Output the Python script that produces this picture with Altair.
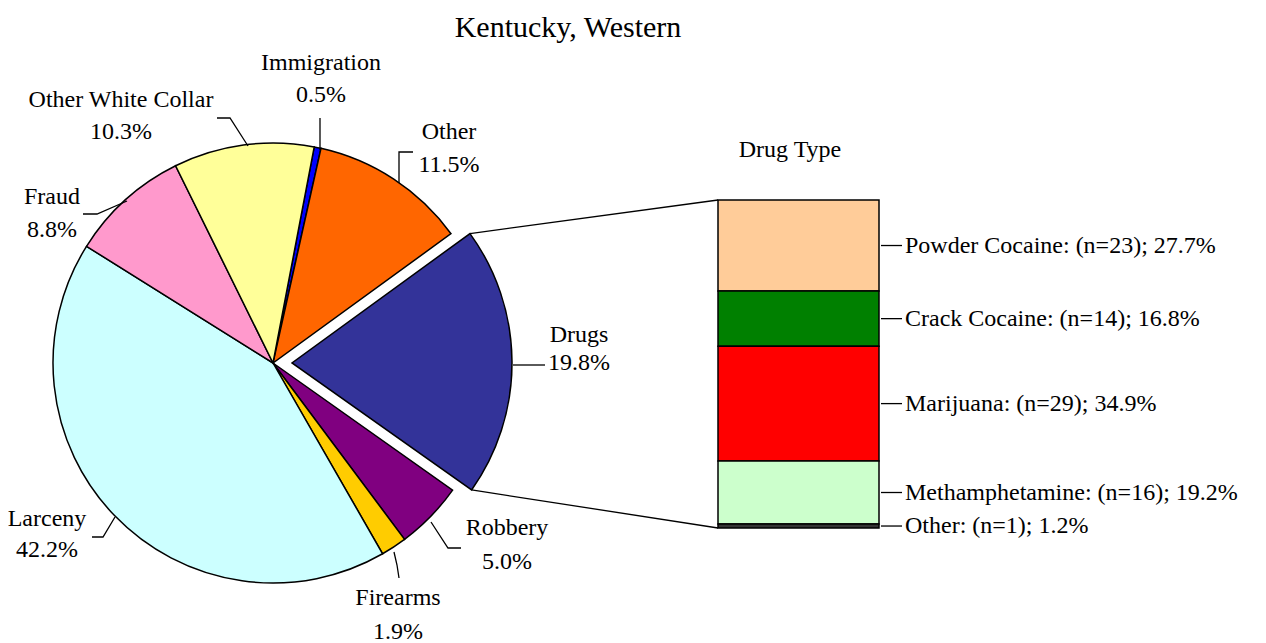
import math
import altair as alt
import pandas as pd

# ---------------- data ----------------
pie_categories = ["Immigration", "Other", "Drugs", "Robbery", "Firearms",
                  "Larceny", "Fraud", "Other White Collar"]
pie_percent = [0.5, 11.5, 19.8, 5.0, 1.9, 42.2, 8.8, 10.3]

drug_types = ["Powder Cocaine", "Crack Cocaine", "Marijuana", "Methamphetamine", "Other"]
drug_counts = [23, 14, 29, 16, 1]
drug_percent = [27.7, 16.8, 34.9, 19.2, 1.2]

chart_title = "Kentucky, Western"
bar_title = "Drug Type"
exploded = "Drugs"

# ---------------- styles / layout ----------------
pie_colors = {
    "Immigration": "#0000FF", "Other": "#FF6600", "Drugs": "#333399",
    "Robbery": "#800080", "Firearms": "#FFCC00", "Larceny": "#CCFFFF",
    "Fraud": "#FF99CC", "Other White Collar": "#FFFF99",
}
drug_colors = {
    "Powder Cocaine": "#FFCC99", "Crack Cocaine": "#008000", "Marijuana": "#FF0000",
    "Methamphetamine": "#CCFFCC", "Other": "#333333",
}
FONT = "Liberation Serif"
FS = 24
W, H = 1250, 635
CX, CY, R = 265, 355, 220
START_DEG = 10.8
EXPLODE = 19
BAR_X0, BAR_X1, BAR_TOP, BAR_BOTTOM = 710, 871, 192, 520

# label placement (text line centres, view pixels) and leader polylines
label_pos = {
    "Immigration": (313, 55, 87),
    "Other": (441, 124, 157),
    "Drugs": (571, 327, 355),
    "Robbery": (499, 520, 554),
    "Firearms": (390, 590, 624),
    "Larceny": (39, 511, 542),
    "Fraud": (44, 189, 222),
    "Other White Collar": (113, 92, 124),
}
leaders = {
    "Immigration": [(312, 110), (312, 142)],
    "Other": [(405, 144), (391, 144), (391, 175)],
    "Drugs": [(505, 357), (537, 357)],
    "Robbery": [(423, 514), (440, 540), (453, 540)],
    "Firearms": [(386, 544), (389, 557), (391, 570)],
    "Larceny": [(107, 509), (95, 529), (84, 529)],
    "Fraud": [(119, 193), (89, 206), (75, 206)],
    "Other White Collar": [(240, 138), (222, 110), (209, 110)],
}

# ---------------- tables ----------------
total_pie = sum(pie_percent)
a0 = math.radians(START_DEG)
pie_df = pd.DataFrame({
    "cat": pie_categories,
    "pct": pie_percent,
    "idx": list(range(len(pie_categories))),
    "color": [pie_colors[c] for c in pie_categories],
})

# exploded slice geometry (from data)
k = pie_categories.index(exploded)
s_frac = sum(pie_percent[:k]) / total_pie
e_frac = sum(pie_percent[:k + 1]) / total_pie
ts = a0 + 2 * math.pi * s_frac
te = a0 + 2 * math.pi * e_frac
tm = (ts + te) / 2
dx, dy = EXPLODE * math.sin(tm), -EXPLODE * math.cos(tm)
ecx, ecy = CX + dx, CY + dy
corner_top = (ecx + R * math.sin(ts), ecy - R * math.cos(ts))
corner_bot = (ecx + R * math.sin(te), ecy - R * math.cos(te))

# text labels
lab_rows = []
for c, p in zip(pie_categories, pie_percent):
    x, y1, y2 = label_pos[c]
    lab_rows.append({"text": c, "x": x, "y": y1})
    lab_rows.append({"text": f"{p:.1f}%", "x": x, "y": y2})
lab_df = pd.DataFrame(lab_rows)

lead_rows = []
for c, pts in leaders.items():
    for j, (x, y) in enumerate(pts):
        lead_rows.append({"seg": c, "k": j, "x": x, "y": y})
lead_df = pd.DataFrame(lead_rows)

conn_df = pd.DataFrame({
    "x": [corner_top[0], corner_bot[0]],
    "y": [corner_top[1], corner_bot[1]],
    "x2": [BAR_X0, BAR_X0],
    "y2": [BAR_TOP, BAR_BOTTOM],
})

total_drug = sum(drug_percent)
y0s, y1s = [], []
for i in range(len(drug_types)):
    b = sum(drug_percent[i + 1:])
    y0s.append(b)
    y1s.append(b + drug_percent[i])
drug_df = pd.DataFrame({
    "type": drug_types,
    "n": drug_counts,
    "pct": drug_percent,
    "y0": y0s,
    "y1": y1s,
    "mid": [(a + b) / 2 for a, b in zip(y0s, y1s)],
    "color": [drug_colors[t] for t in drug_types],
    "label": [f"{t}: (n={n}); {p:.1f}%" for t, n, p in zip(drug_types, drug_counts, drug_percent)],
})

# ---------------- chart ----------------
theta_enc = alt.Theta("pct:Q", stack=True,
                      scale=alt.Scale(domain=[0, total_pie], range=[a0, a0 + 2 * math.pi]))
is_ex = f"datum.cat == '{exploded}'"

pie_main = alt.Chart(pie_df).mark_arc(radius=R, stroke="black", strokeWidth=1.5).encode(
    theta=theta_enc,
    order=alt.Order("idx:Q"),
    color=alt.Color("color:N", scale=None),
    opacity=alt.condition(is_ex, alt.value(0), alt.value(1)),
    x=alt.value(CX), y=alt.value(CY),
)
pie_ex = alt.Chart(pie_df).mark_arc(radius=R, stroke="black", strokeWidth=1.5).encode(
    theta=theta_enc,
    order=alt.Order("idx:Q"),
    color=alt.Color("color:N", scale=None),
    opacity=alt.condition(is_ex, alt.value(1), alt.value(0)),
    x=alt.value(ecx), y=alt.value(ecy),
)

labels = alt.Chart(lab_df).mark_text(font=FONT, fontSize=FS, color="black",
                                     align="center", baseline="middle").encode(
    x=alt.X("x:Q", scale=None, axis=None),
    y=alt.Y("y:Q", scale=None, axis=None),
    text="text:N",
)
leader_lines = alt.Chart(lead_df).mark_line(color="black", strokeWidth=1.3).encode(
    x=alt.X("x:Q", scale=None, axis=None),
    y=alt.Y("y:Q", scale=None, axis=None),
    detail="seg:N",
    order="k:Q",
)
connectors = alt.Chart(conn_df).mark_rule(color="black", strokeWidth=1.3).encode(
    x=alt.X("x:Q", scale=None, axis=None),
    y=alt.Y("y:Q", scale=None, axis=None),
    x2="x2:Q", y2="y2:Q",
)

bar_scale = alt.Scale(domain=[0, total_drug], range=[BAR_BOTTOM, BAR_TOP], nice=False, zero=True)
bar = alt.Chart(drug_df).mark_rect(stroke="black", strokeWidth=1.5).encode(
    x=alt.value(BAR_X0), x2=alt.value(BAR_X1),
    y=alt.Y("y0:Q", scale=bar_scale, axis=None), y2="y1:Q",
    color=alt.Color("color:N", scale=None),
)
bar_stubs = alt.Chart(drug_df).mark_rule(color="black", strokeWidth=1.3).encode(
    x=alt.value(BAR_X1 + 2), x2=alt.value(BAR_X1 + 23),
    y=alt.Y("mid:Q", scale=bar_scale, axis=None),
)
bar_labels = alt.Chart(drug_df).mark_text(font=FONT, fontSize=FS, color="black",
                                          align="left", baseline="middle").encode(
    x=alt.value(BAR_X1 + 26),
    y=alt.Y("mid:Q", scale=bar_scale, axis=None),
    text="label:N",
)

title_mark = alt.Chart(pd.DataFrame({"t": [chart_title]})).mark_text(
    font=FONT, fontSize=30, color="black", align="center", baseline="alphabetic"
).encode(x=alt.value(560), y=alt.value(29), text="t:N")

subtitle_mark = alt.Chart(pd.DataFrame({"t": [bar_title]})).mark_text(
    font=FONT, fontSize=FS, color="black", align="center", baseline="middle"
).encode(x=alt.value(782), y=alt.value(142), text="t:N")

chart = alt.layer(
    connectors, pie_main, pie_ex, leader_lines, labels, bar, bar_stubs, bar_labels,
    title_mark, subtitle_mark
).resolve_scale(x="independent", y="independent").properties(
    width=W, height=H, padding=0, autosize="none"
).configure_view(stroke=None)

chart.save("out.html", embed_options={"renderer": "svg", "actions": False})
